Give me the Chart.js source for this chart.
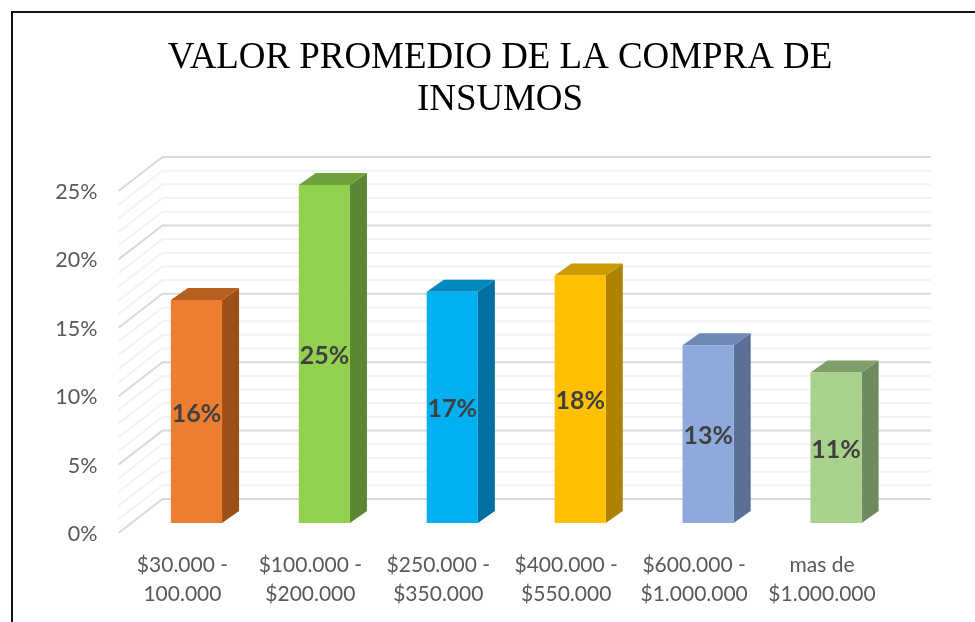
<!DOCTYPE html>
<html lang="es">
<head>
    <meta charset="UTF-8">
    <title>Valor promedio de la compra de insumos</title>
    <script src="https://cdn.jsdelivr.net/npm/chart.js"></script>
    <style>
        html, body { margin: 0; padding: 0; background: white; overflow: hidden; }
        #frame {
            position: absolute; left: 11px; top: 11px; width: 980px; height: 630px;
            border-left: 2px solid #111; border-top: 2px solid #111;
        }
        canvas { position: absolute; left: 0; top: 0; }
    </style>
</head>
<body>
    <div id="frame"></div>
    <canvas id="compras" width="975" height="622"></canvas>

    <script>
        const titleLines = ["VALOR PROMEDIO DE LA COMPRA DE", "INSUMOS"];
        const categories = [
            ["$30.000 -", "100.000"],
            ["$100.000 -", "$200.000"],
            ["$250.000 -", "$350.000"],
            ["$400.000 -", "$550.000"],
            ["$600.000 -", "$1.000.000"],
            ["mas de", "$1.000.000"]
        ];
        const percentages = [16.3, 24.7, 16.9, 18.1, 13.0, 11.0];

        const frontColors = ["#ED7D31", "#92D050", "#00B0F0", "#FFC000", "#8EA9DB", "#A9D18E"];
        const sideColors = ["#9C5018", "#5D8633", "#0070A0", "#AD8200", "#5C6F96", "#6F8A5E"];
        const topColors = ["#B55F20", "#6FA03A", "#0089BC", "#CC9A00", "#6F88B5", "#7F9F6A"];

        // depth of the fake 3D box, relative to the plane the bars stand on
        const barDepth = { x: 17, y: -12 };
        const backWall = { x: 30, y: -24 };
        const frontEdge = { x: -14, y: 10 };

        function polygon(ctx, points, color) {
            ctx.fillStyle = color;
            ctx.beginPath();
            points.forEach((p, i) => i ? ctx.lineTo(p[0], p[1]) : ctx.moveTo(p[0], p[1]));
            ctx.closePath();
            ctx.fill();
        }

        const fake3d = {
            id: "fake3d",
            beforeDatasetsDraw(chart) {
                const ctx = chart.ctx;
                const area = chart.chartArea;
                const yScale = chart.scales.y;

                // walls: minor line every 1%, stronger every 5%
                ctx.save();
                ctx.lineWidth = 2;
                yScale.ticks.forEach(tick => {
                    const y = yScale.getPixelForValue(tick.value);
                    ctx.strokeStyle = tick.value % 5 === 0 ? "#D9D9D9" : "#F2F2F2";
                    ctx.beginPath();
                    ctx.moveTo(area.left + frontEdge.x, y + frontEdge.y);
                    ctx.lineTo(area.left + backWall.x, y + backWall.y);
                    ctx.lineTo(area.right + backWall.x + 1, y + backWall.y);
                    ctx.stroke();
                });

                // side and top faces behind each bar
                chart.getDatasetMeta(0).data.forEach((bar, i) => {
                    const left = bar.x - bar.width / 2;
                    const right = bar.x + bar.width / 2;
                    polygon(ctx, [
                        [right, bar.y],
                        [right + barDepth.x, bar.y + barDepth.y],
                        [right + barDepth.x, bar.base + barDepth.y],
                        [right, bar.base]
                    ], sideColors[i]);
                    polygon(ctx, [
                        [left, bar.y],
                        [left + barDepth.x, bar.y + barDepth.y],
                        [right + barDepth.x, bar.y + barDepth.y],
                        [right, bar.y]
                    ], topColors[i]);
                });
                ctx.restore();
            },
            afterDatasetsDraw(chart) {
                const ctx = chart.ctx;
                ctx.save();
                ctx.font = "bold 25px Lato";
                ctx.fillStyle = "#404040";
                ctx.textAlign = "center";
                ctx.textBaseline = "middle";
                chart.getDatasetMeta(0).data.forEach((bar, i) => {
                    const label = percentages[i].toFixed(0) + "%";
                    ctx.fillText(label, bar.x, (bar.y + bar.base) / 2 + 2);
                });
                ctx.restore();
            }
        };

        new Chart(document.getElementById("compras"), {
            type: "bar",
            data: {
                labels: categories,
                datasets: [{
                    data: percentages,
                    backgroundColor: frontColors,
                    barPercentage: 0.4,
                    categoryPercentage: 1
                }]
            },
            options: {
                responsive: false,
                animation: false,
                layout: { padding: { left: 25, right: 0, top: 0, bottom: 0 } },
                scales: {
                    x: {
                        grid: { display: false },
                        border: { display: false },
                        ticks: {
                            color: "#595959",
                            font: { family: "Lato", size: 21, lineHeight: 1.38 },
                            padding: 20,
                            labelOffset: -14,
                            maxRotation: 0,
                            minRotation: 0,
                            autoSkip: false
                        },
                        afterFit(scale) { scale.height = 99; }
                    },
                    y: {
                        min: 0,
                        max: 25,
                        grid: { display: false, drawTicks: false },
                        border: { display: false },
                        ticks: {
                            stepSize: 1,
                            autoSkip: false,
                            color: "#595959",
                            font: { family: "Lato", size: 21.5 },
                            padding: 35,
                            labelOffset: 11,
                            callback: v => v % 5 === 0 ? v + "%" : ""
                        },
                        afterFit(scale) { scale.width = 107.5; }
                    },
                    // empty axis, only keeps the margin right of the plot
                    rightMargin: {
                        axis: "y",
                        position: "right",
                        grid: { display: false, drawTicks: false },
                        border: { display: false },
                        ticks: { display: false },
                        afterFit(scale) { scale.width = 75; }
                    }
                },
                plugins: {
                    legend: { display: false },
                    tooltip: { enabled: false },
                    title: {
                        display: true,
                        text: titleLines,
                        color: "#000000",
                        font: { family: "Liberation Serif", size: 36.9, weight: "normal", lineHeight: 42 / 36.9 },
                        padding: { top: 37, bottom: 60 }
                    }
                }
            },
            plugins: [fake3d]
        });
    </script>
</body>
</html>
